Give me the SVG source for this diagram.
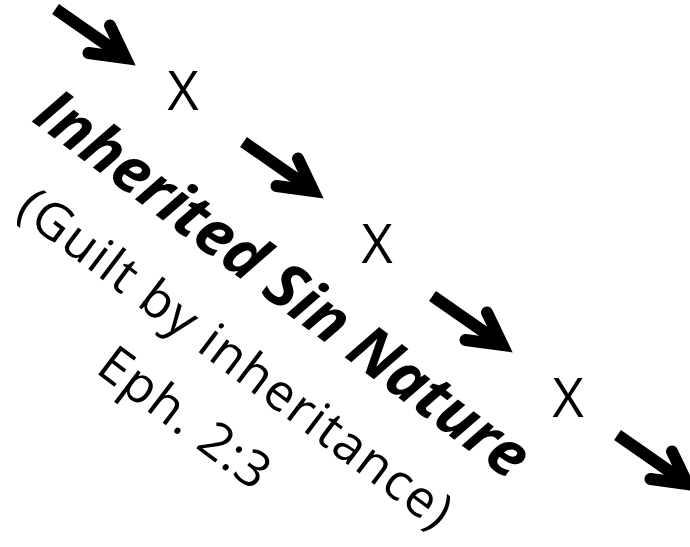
<svg xmlns="http://www.w3.org/2000/svg" width="690" height="547" viewBox="0 0 690 547">
<style>
.arrow path{fill:none;stroke:#000;stroke-width:12}
.shaft{stroke-linecap:butt}
.head{stroke-linecap:round;stroke-linejoin:miter;stroke-miterlimit:6}
.x{font-family:"Open Sans","Liberation Sans",sans-serif;font-size:54px;fill:#000;text-anchor:middle}
.lbl{font-family:"Open Sans","Liberation Sans",sans-serif;fill:#000;text-anchor:middle}
</style>
<defs>
<g id="arr" class="arrow">
<path class="shaft" d="M-79.5,-56 L-12,-9"/>
<path class="head" d="M-25,-39.5 L-9.5,-7 L-46.5,-12"/>
</g>
</defs>
<rect width="690" height="547" fill="#fff"/>
<g id="connectors">
<use href="#arr" transform="translate(135,65)"/>
<use href="#arr" transform="translate(323,198)"/>
<use href="#arr" transform="translate(512,352)"/>
<use href="#arr" transform="translate(697,491)"/>
</g>
<g id="x1"><text class="x" x="183" y="110">X</text></g>
<g id="x2"><text class="x" x="377" y="263">X</text></g>
<g id="x3"><text class="x" x="568" y="417">X</text></g>
<g id="label" transform="translate(270,301) rotate(37)">
<text class="lbl" x="0" y="0" font-size="63" font-weight="bold" font-style="italic" textLength="600" lengthAdjust="spacing">Inherited Sin Nature</text>
<text class="lbl" x="7" y="84" font-size="51" textLength="528" lengthAdjust="spacing">(Guilt by inheritance)</text>
<text class="lbl" x="2" y="162" font-size="51" textLength="200" lengthAdjust="spacing">Eph. 2:3</text>
</g>
</svg>
